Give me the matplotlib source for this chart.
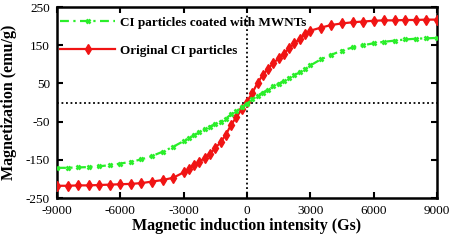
import matplotlib
matplotlib.use("Agg")
import matplotlib.pyplot as plt

field = [-9000, -8500, -8000, -7500, -7000, -6500, -6000, -5500, -5000, -4500, -4000, -3500,
         -3000, -2750, -2500, -2250, -2000, -1750, -1500, -1250, -1000, -750, -500, -250, 0,
         250, 500, 750, 1000, 1250, 1500, 1750, 2000, 2250, 2500, 2750, 3000,
         3500, 4000, 4500, 5000, 5500, 6000, 6500, 7000, 7500, 8000, 8500, 9000]

original = [-218, -218, -217, -217, -216, -215, -214, -213, -211, -207, -203, -197,
            -183, -174, -164, -155, -145, -134, -119, -104, -84, -58, -38, -18, 2,
            25, 51, 72, 89, 103, 116, 128, 142, 155, 167, 179, 188,
            196, 203, 207, 210, 212, 214, 215, 215, 216, 216, 217, 217]

coated = [-171, -171, -170, -169, -167, -164, -160, -155, -149, -140, -129, -116,
          -101, -93, -85, -78, -70, -63, -56, -50, -42, -31, -23, -13, -3,
          8, 18, 26, 34, 42, 49, 57, 64, 72, 79, 87, 97,
          113, 125, 136, 144, 150, 155, 159, 162, 165, 167, 168, 169]

series_labels = ["CI particles coated with MWNTs", "Original CI particles"]
x_ticks = [-9000, -6000, -3000, 0, 3000, 6000, 9000]
y_ticks = [-250, -150, -50, 50, 150, 250]
x_label = "Magnetic induction intensity (Gs)"
y_label = "Magnetization (emu/g)"

serif = ["Liberation Serif", "DejaVu Serif"]
plt.rcParams['font.family'] = serif

fig = plt.figure(figsize=(4.54, 2.45), dpi=100)
ax = fig.add_axes([57/454, 1-198/245, (437-57)/454, (198-7)/245])

red = "#f01414"
green = "#2aee2a"

ax.axhline(0, color="black", lw=1.3, ls=(0, (1, 1.5)), zorder=1)
ax.axvline(0, color="black", lw=1.3, ls=(0, (1, 1.5)), zorder=1)

l_red, = ax.plot(field, original, color=red, lw=1.6, marker="d", ms=5.5,
                 mec=red, mfc=red, zorder=3)
l_green, = ax.plot(field, coated, color=green, lw=1.6, ls=(0, (4, 2, 1, 2)),
                   marker="x", ms=3.5, mew=1.8, mec=green, zorder=4)

ax.set_xlim(-9000, 9000)
ax.set_ylim(-250, 250)
ax.set_xticks(x_ticks)
ax.set_xticklabels([str(t) for t in x_ticks])
ax.set_yticks(y_ticks)
ax.set_yticklabels([str(t) for t in y_ticks])
ax.tick_params(direction="in", length=4, width=1.5, top=True, right=True,
               labelsize=9.5)
ax.tick_params(axis="x", pad=5)
ax.tick_params(axis="y", pad=5)
for sp in ax.spines.values():
    sp.set_linewidth(1.8)

ax.set_xlabel(x_label, fontsize=11.5, fontweight="bold", labelpad=1)
ax.set_ylabel(y_label, fontsize=11.5, fontweight="bold", labelpad=6)

leg = ax.legend([l_green, l_red], series_labels, loc="upper left", frameon=False,
                prop={"weight": "bold", "size": 9.5}, handlelength=4.2,
                handletextpad=0.38, labelspacing=1.2, borderaxespad=0,
                bbox_to_anchor=(-0.006, 0.979), numpoints=1)

fig.savefig("out.png", dpi=100)
